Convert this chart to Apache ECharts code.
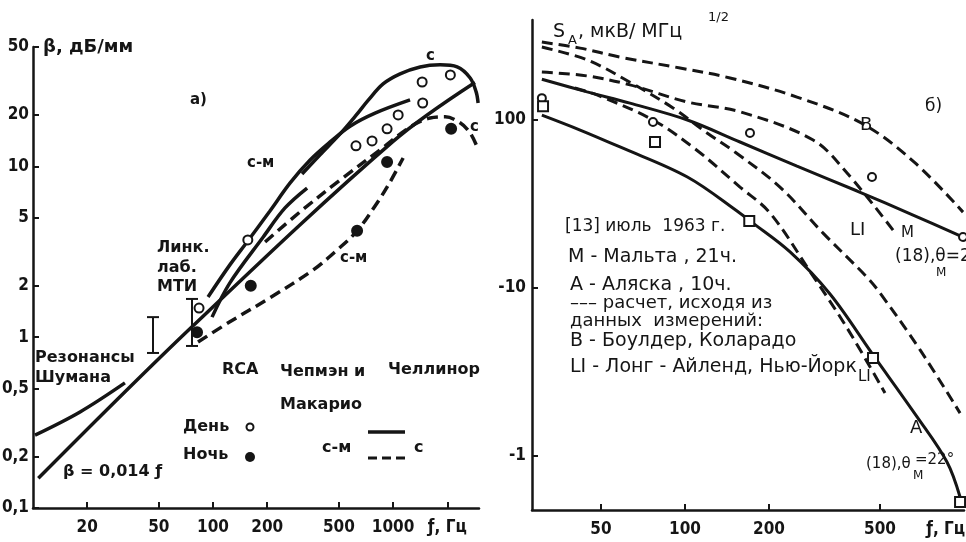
<!DOCTYPE html>
<html>
<head>
<meta charset="utf-8">
<script src="https://cdn.jsdelivr.net/npm/echarts@6/dist/echarts.min.js"></script>
<style>
html, body { margin: 0; padding: 0; background: #fff; }
#chart { width: 966px; height: 542px; }
</style>
</head>
<body>
<div id="chart"></div>
<script>
// panel a) - attenuation beta (dB/Mm) vs frequency
var betaTicks = [0.1, 0.2, 0.5, 1, 2, 5, 10, 20, 50];
var freqTicksA = [20, 50, 100, 200, 500, 1000, 2000];
var lineBeta = [[10.7, 0.149], [76.4, 1.15], [1000, 14], [2850, 31]];
var schumann = [[10.26, 0.267], [18.25, 0.365], [32.4, 0.54]];
var cmOuter = [[93.8, 1.72], [124, 2.65], [156, 3.66], [207, 5.48], [268, 8.0], [346, 10.9], [447, 13.9], [577, 17.2], [794, 20.5], [1242, 24.5]];
var cArch = [[312, 9.03], [393, 11.7], [508, 15.5], [620, 19.8], [730, 24.5], [880, 30.4], [1094, 34.8], [1413, 38.2], [1824, 39.3], [2268, 38.2], [2680, 32.9], [2892, 27.3], [2966, 23.5]];
var cmShort = [[98.7, 1.31], [124, 2.08], [190, 3.86], [251, 5.71], [333, 7.47]];
var cDashed = [[194.5, 3.61], [304, 5.41], [508, 8.32], [847, 12.5], [1242, 17.0], [1605, 19.2], [1945, 19.5], [2355, 18.0], [2680, 15.7], [2930, 13.0]];
var cmDashed = [[82.5, 0.937], [124, 1.23], [207, 1.70], [359, 2.47], [489, 3.24], [631, 4.19], [815, 6.11], [962, 8.10], [1137, 11.2]];
var rcaDay = [[83.6, 1.48], [156, 3.71], [622, 13.2], [764, 14.1], [926, 16.6], [1067, 20.0], [1460, 23.5], [1450, 31.2], [2080, 34.3]];
var rcaNight = [[81.5, 1.07], [162, 2.0], [631, 4.2], [926, 10.6], [2100, 16.6]];
var mitBars = [[46.4, 0.808, 1.31], [76.4, 0.888, 1.674]];

// panel b) - S_A vs frequency
var freqTicksB = [50, 100, 200, 500];
var sTicks = [1, 10, 100];
var curveB = [[30.7, 291], [42.1, 268], [58.5, 237], [96, 204], [145, 178], [252, 137], [435, 94.7], [668, 55.5], [992, 28.3]];
var curveLIcalc = [[30.7, 272], [44.6, 228], [63.5, 168], [90.6, 118], [120, 83.7], [151, 64.5], [219, 39.9], [312, 21.3], [449, 11.6], [500, 9.34], [696, 4.28], [968, 1.80]];
var curveMcalc = [[30.7, 193], [44.6, 183], [63.5, 162], [102, 128], [157.5, 112], [288, 76.0], [381, 48.4], [557, 22.1]];
var curveM = [[30.7, 175], [44.6, 147], [63.5, 126], [102, 100], [157.5, 74.0], [252, 53.2], [414, 37.8], [657, 27.2], [992, 20.1]];
var curveLI = [[40.3, 155], [48.4, 141], [76.8, 100], [110, 66.3], [157.5, 39.9], [202, 27.9], [281, 12.5], [381, 5.78], [521, 2.37]];
var curveA = [[30.7, 107], [42.1, 87.2], [58.5, 69.1], [102, 45.8], [157.5, 27.9], [171, 25.1], [238, 16.4], [331, 9.21], [472, 4.0], [679, 1.71], [869, 0.921], [968, 0.570]];
var circlesB = [[30.7, 135], [76.8, 97.3], [171, 83.7], [468, 45.8], [992, 20.1]];
var squaresB = [[31, 121], [78.1, 74.0], [170, 25.1], [472, 3.83], [968, 0.532]];

var INK = '#151515';
var FONT = 'DejaVu Sans';
var COND = 'DejaVu Sans Condensed';
var DASH = [11, 6];

function lineS(data, ax, dashed, width) {
  return {
    type: 'line', xAxisIndex: ax, yAxisIndex: ax, data: data,
    symbol: 'none', smooth: 0.35, silent: true, z: 2,
    lineStyle: { color: INK, width: width || 3, type: dashed ? DASH : 'solid' }
  };
}

function dots(data, ax, symbol, size, filled) {
  return {
    type: 'scatter', xAxisIndex: ax, yAxisIndex: ax, data: data,
    symbol: symbol, symbolSize: size, silent: true, z: 5,
    itemStyle: { color: filled ? INK : '#fff', borderColor: INK, borderWidth: 2, opacity: 1 }
  };
}

function renderBar(params, api) {
  var hi = api.coord([api.value(0), api.value(2)]);
  var lo = api.coord([api.value(0), api.value(1)]);
  var w = 6;
  var st = { stroke: INK, lineWidth: 2 };
  return {
    type: 'group', children: [
      { type: 'line', shape: { x1: hi[0], y1: hi[1], x2: lo[0], y2: lo[1] }, style: st },
      { type: 'line', shape: { x1: hi[0] - w, y1: hi[1], x2: hi[0] + w, y2: hi[1] }, style: st },
      { type: 'line', shape: { x1: lo[0] - w, y1: lo[1], x2: lo[0] + w, y2: lo[1] }, style: st }
    ]
  };
}

function txt(s, x, y, size, extra) {
  extra = extra || {};
  return {
    type: 'text', x: x, y: y, silent: true, z: 10,
    style: {
      text: s, fill: INK,
      font: (extra.weight ? extra.weight + ' ' : '') + size + 'px "' + (extra.family || FONT) + '"',
      textAlign: extra.align || 'left', textVerticalAlign: 'middle',
      align: extra.align || 'left', verticalAlign: 'middle'
    }
  };
}

function boldTxt(s, x, y, size) {
  return txt(s, x, y, size, { weight: 'bold' });
}

function commaFmt(v) {
  return String(+v.toPrecision(6)).replace('.', ',');
}

var axisLabelBase = { color: INK, fontFamily: COND, fontWeight: 'bold', fontSize: 17 };

var chart = echarts.init(document.getElementById('chart'));
chart.setOption({
  animation: false,
  backgroundColor: '#fff',
  grid: [
    { left: 33, top: 47, width: 446, height: 461, outerBoundsMode: 'none', containLabel: false },
    { left: 532, top: 20, width: 432, height: 490, outerBoundsMode: 'none', containLabel: false }
  ],
  xAxis: [
    {
      type: 'log', gridIndex: 0, min: 10, max: 3000,
      axisLine: { lineStyle: { color: INK, width: 2.5 } },
      axisTick: { inside: true, length: 6, lineStyle: { color: INK, width: 2 }, customValues: freqTicksA },
      axisLabel: Object.assign({}, axisLabelBase, {
        customValues: freqTicksA, margin: 11,
        formatter: function (v) { return v >= 2000 ? 'ƒ, Гц' : String(Math.round(v)); }
      }),
      splitLine: { show: false }, minorTick: { show: false }
    },
    {
      type: 'log', gridIndex: 1, min: 28.3, max: 1000,
      axisLine: { lineStyle: { color: INK, width: 2.5 } },
      axisTick: { inside: true, length: 6, lineStyle: { color: INK, width: 2 }, customValues: freqTicksB },
      axisLabel: Object.assign({}, axisLabelBase, {
        customValues: freqTicksB.concat([860]), margin: 11,
        formatter: function (v) { return v > 600 ? 'ƒ, Гц' : String(Math.round(v)); }
      }),
      splitLine: { show: false }, minorTick: { show: false }
    }
  ],
  yAxis: [
    {
      type: 'log', gridIndex: 0, min: 0.0999, max: 50.01,
      axisLine: { lineStyle: { color: INK, width: 2.5 } },
      axisTick: { inside: true, length: 6, lineStyle: { color: INK, width: 2 }, customValues: betaTicks },
      axisLabel: Object.assign({}, axisLabelBase, { customValues: betaTicks, margin: 4, formatter: commaFmt }),
      splitLine: { show: false }, minorTick: { show: false }
    },
    {
      type: 'log', gridIndex: 1, min: 0.477, max: 394,
      axisLine: { lineStyle: { color: INK, width: 2.5 } },
      axisTick: { inside: true, length: 6, lineStyle: { color: INK, width: 2 }, customValues: sTicks },
      axisLabel: Object.assign({}, axisLabelBase, {
        customValues: sTicks, margin: 6,
        formatter: function (v) { return v >= 100 ? '100' : '-' + Math.round(v); }
      }),
      splitLine: { show: false }, minorTick: { show: false }
    }
  ],
  series: [
    lineS(lineBeta, 0, false, 3.5),
    lineS(schumann, 0, false, 3.5),
    lineS(cmOuter, 0, false, 3.5),
    lineS(cArch, 0, false, 3.5),
    lineS(cmShort, 0, false, 3.5),
    lineS(cDashed, 0, true, 3.5),
    lineS(cmDashed, 0, true, 3.5),
    dots(rcaDay, 0, 'circle', 9, false),
    dots(rcaNight, 0, 'circle', 10, true),
    {
      type: 'custom', xAxisIndex: 0, yAxisIndex: 0, data: mitBars, silent: true, z: 4,
      encode: { x: 0, y: [1, 2] }, renderItem: renderBar
    },
    lineS(curveB, 1, true),
    lineS(curveLIcalc, 1, true),
    lineS(curveMcalc, 1, true),
    lineS(curveM, 1, false),
    lineS(curveLI, 1, true),
    lineS(curveA, 1, false),
    dots(circlesB, 1, 'circle', 8, false),
    dots(squaresB, 1, 'rect', 10, false)
  ],
  graphic: [
    // panel a) texts
    boldTxt('β, дБ/мм', 43, 47, 18),
    boldTxt('а)', 190, 100, 15),
    boldTxt('с-м', 247, 163, 15),
    boldTxt('с', 426, 56, 15),
    boldTxt('с', 470, 127, 15),
    boldTxt('с-м', 340, 258, 15),
    boldTxt('Линк.', 157, 248, 16),
    boldTxt('лаб.', 157, 268, 16),
    boldTxt('МТИ', 157, 287, 16),
    boldTxt('Резонансы', 35, 358, 16),
    boldTxt('Шумана', 35, 378, 16),
    boldTxt('β = 0,014 ƒ', 63, 472, 16),
    boldTxt('RCA', 222, 370, 16),
    boldTxt('Чепмэн и', 280, 372, 16),
    boldTxt('Челлинор', 388, 370, 16),
    boldTxt('Макарио', 280, 405, 16),
    boldTxt('День', 183, 427, 16),
    boldTxt('Ночь', 183, 455, 16),
    { type: 'circle', shape: { cx: 250, cy: 427, r: 3.5 }, style: { fill: '#fff', stroke: INK, lineWidth: 2 }, silent: true, z: 10 },
    { type: 'circle', shape: { cx: 250, cy: 457, r: 5 }, style: { fill: INK }, silent: true, z: 10 },
    boldTxt('с-м', 322, 448, 16),
    { type: 'line', shape: { x1: 368, y1: 432, x2: 405, y2: 432 }, style: { stroke: INK, lineWidth: 3.5 }, silent: true, z: 10 },
    { type: 'line', shape: { x1: 368, y1: 458, x2: 405, y2: 458 }, style: { stroke: INK, lineWidth: 3, lineDash: [9, 5] }, silent: true, z: 10 },
    boldTxt('с', 414, 448, 16),
    // panel b) texts
    txt('S', 553, 32, 19),
    txt('A', 568, 41, 13),
    txt(', мкВ/ МГц', 578, 32, 19),
    txt('1/2', 708, 18, 13),
    txt('б)', 925, 107, 17),
    txt('В', 860, 125, 18),
    txt('LI', 850, 230, 18),
    txt('М', 901, 233, 15),
    txt('(18),θ=2', 895, 257, 17),
    txt('М', 936, 273, 12),
    txt('[13] июль  1963 г.', 565, 227, 17),
    txt('М - Мальта , 21ч.', 568, 257, 19),
    txt('А - Аляска , 10ч.', 570, 285, 19),
    txt('––– расчет, исходя из', 570, 303, 18),
    txt('данных  измерений:', 570, 321, 18),
    txt('В - Боулдер, Коларадо', 570, 341, 19),
    txt('LI - Лонг - Айленд, Нью-Йорк', 570, 367, 19),
    txt('LI', 858, 377, 15),
    txt('А', 910, 428, 18),
    txt('(18),θ', 866, 464, 15),
    txt('=22°', 915, 460, 15),
    txt('М', 913, 476, 12)
  ]
});
</script>
</body>
</html>
